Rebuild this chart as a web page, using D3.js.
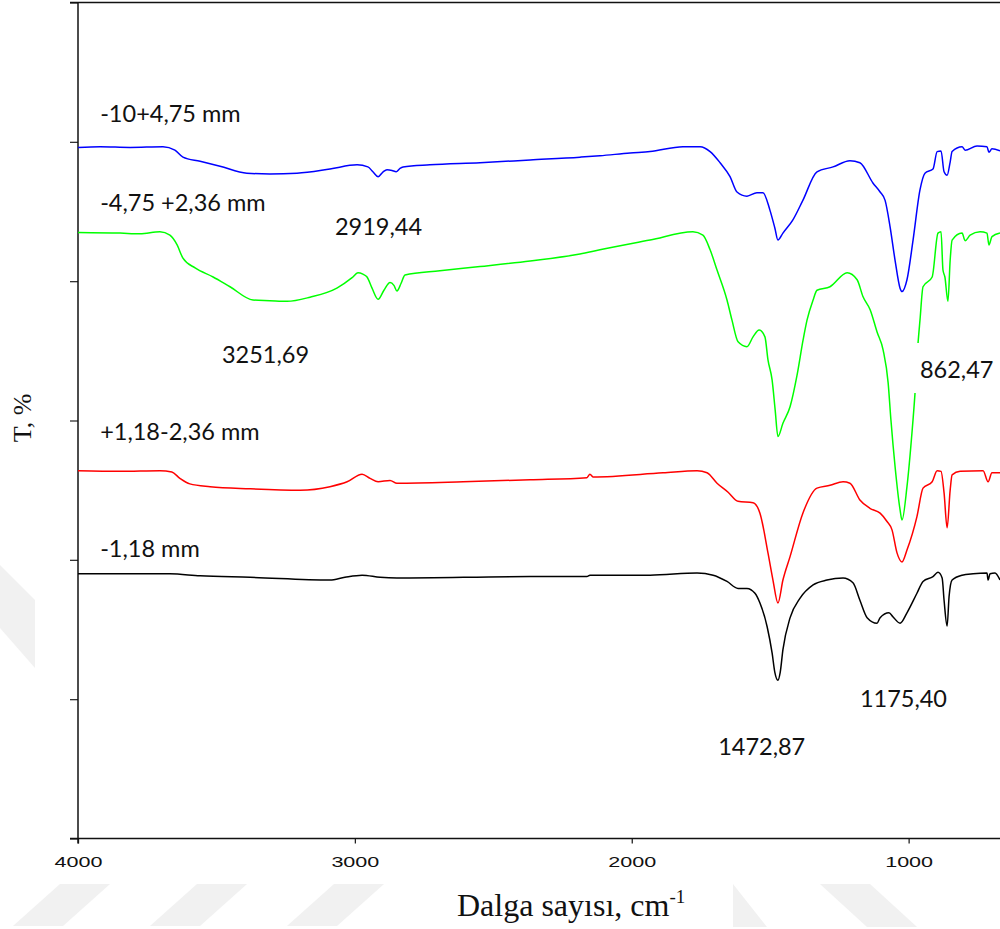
<!DOCTYPE html>
<html>
<head>
<meta charset="utf-8">
<script src="https://cdn.jsdelivr.net/npm/d3@7"></script>
<style>
  body { margin: 0; background: #fff; }
  svg { display: block; }
</style>
</head>
<body>
<script>
// wavenumber (cm-1), transmittance (arbitrary offset %)
const blueData = [
  [4000, 99.2], [3920, 99.3], [3812, 99.2], [3693, 99.3], [3650, 98.8], [3621, 97.8], [3559, 97.2],
  [3487, 96.5], [3390, 95.5], [3307, 95.4], [3209, 95.5], [3090, 96.1], [2992, 96.7], [2953, 96.4],
  [2935, 95.7], [2916, 95.0], [2898, 95.7], [2884, 96.0], [2866, 95.9], [2851, 95.7], [2837, 96.2],
  [2826, 96.4], [2729, 96.7], [2548, 97.0], [2367, 97.4], [2187, 97.8], [2115, 98.0], [2006, 98.4],
  [1934, 98.6], [1815, 99.3], [1753, 99.3], [1717, 98.6], [1681, 97.0], [1645, 95.0], [1620, 92.8],
  [1584, 92.2], [1548, 92.7], [1526, 92.7], [1501, 90.2], [1483, 87.6], [1472, 85.9], [1454, 86.9],
  [1418, 88.8], [1382, 91.6], [1331, 95.7], [1273, 96.4], [1212, 97.3], [1176, 97.0], [1129, 94.1],
  [1103, 92.8], [1085, 91.6], [1067, 87.8], [1049, 83.0], [1031, 79.0], [1024, 78.5], [1006, 80.2],
  [984, 85.9], [959, 93.1], [941, 95.5], [912, 96.1], [897, 98.6], [883, 98.7], [872, 95.7],
  [861, 95.2], [850, 97.1], [843, 98.6], [807, 99.3], [796, 98.8], [753, 99.4], [717, 99.3],
  [710, 98.5], [699, 99.0], [670, 98.7]
];

const greenData = [
  [4000, 87.0], [3848, 86.9], [3776, 86.8], [3704, 87.1], [3668, 86.6], [3642, 85.2], [3621, 83.3],
  [3577, 81.9], [3512, 80.6], [3451, 79.2], [3368, 77.3], [3307, 77.2], [3245, 77.1], [3162, 77.7],
  [3065, 79.0], [3010, 80.5], [2989, 81.2], [2971, 81.0], [2956, 80.6], [2938, 79.0], [2916, 77.4],
  [2895, 78.7], [2873, 79.8], [2859, 79.4], [2848, 78.6], [2833, 79.7], [2819, 80.9], [2693, 81.5],
  [2548, 82.1], [2367, 82.9], [2187, 83.9], [2115, 84.5], [1934, 85.9], [1779, 87.1], [1743, 86.6],
  [1717, 84.5], [1692, 81.6], [1656, 77.3], [1638, 74.4], [1616, 71.3], [1584, 70.6], [1562, 72.0],
  [1540, 73.0], [1519, 72.0], [1508, 68.7], [1493, 65.8], [1482, 61.5], [1472, 57.7], [1454, 59.6],
  [1428, 62.0], [1403, 66.5], [1381, 71.6], [1367, 74.4], [1345, 77.3], [1331, 78.7], [1284, 79.2],
  [1222, 81.2], [1186, 80.2], [1165, 77.8], [1139, 75.9], [1114, 72.7], [1092, 70.1], [1074, 65.4],
  [1064, 60.1], [1049, 53.4], [1031, 47.2], [1024, 45.7], [1006, 50.5], [988, 58.2], [977, 63.9],
  [966, 71.1], [959, 74.4], [948, 79.2], [915, 80.6], [894, 86.9], [883, 87.1], [876, 81.6],
  [869, 80.6], [858, 77.1], [850, 83.0], [843, 85.9], [807, 86.9], [796, 85.8], [778, 86.6],
  [742, 87.1], [717, 86.9], [710, 85.2], [699, 86.4], [670, 86.9]
];

const redData = [
  [4000, 52.8], [3848, 52.7], [3704, 52.8], [3661, 52.6], [3632, 51.7], [3596, 50.9], [3523, 50.5],
  [3379, 50.2], [3198, 50.0], [3090, 50.5], [3028, 51.2], [2974, 52.3], [2945, 51.7], [2916, 51.2],
  [2873, 51.4], [2848, 51.0], [2609, 51.2], [2367, 51.5], [2162, 51.8], [2151, 52.3], [2140, 51.9],
  [1887, 52.5], [1764, 52.8], [1728, 52.5], [1692, 51.0], [1652, 49.7], [1616, 48.4], [1562, 48.2],
  [1537, 46.7], [1508, 41.0], [1490, 37.1], [1472, 33.8], [1454, 37.1], [1428, 40.5], [1382, 46.7],
  [1331, 50.3], [1284, 50.7], [1237, 51.2], [1212, 51.0], [1176, 48.6], [1140, 47.4], [1103, 46.7],
  [1078, 45.5], [1060, 44.3], [1042, 41.0], [1024, 39.7], [1006, 41.4], [970, 46.2], [948, 50.3],
  [915, 51.2], [897, 52.8], [883, 52.7], [872, 49.6], [861, 44.6], [850, 50.0], [843, 52.2],
  [814, 52.7], [731, 52.8], [713, 51.2], [699, 52.5], [670, 52.5]
];

const blackData = [
  [4000, 38.0], [3848, 38.0], [3668, 38.0], [3559, 37.7], [3379, 37.5], [3090, 37.1], [3036, 37.5],
  [2974, 37.8], [2909, 37.5], [2848, 37.4], [2367, 37.6], [2162, 37.6], [2151, 37.8], [1934, 37.8],
  [1764, 38.1], [1706, 37.8], [1656, 36.9], [1616, 35.9], [1584, 35.9], [1555, 35.2], [1537, 33.8],
  [1511, 30.4], [1493, 26.6], [1483, 23.8], [1472, 22.7], [1464, 23.8], [1454, 27.1], [1428, 31.7],
  [1392, 34.5], [1345, 36.4], [1295, 37.1], [1237, 37.4], [1201, 36.7], [1176, 34.2], [1150, 31.7],
  [1114, 30.9], [1103, 31.7], [1071, 32.4], [1056, 31.8], [1031, 30.9], [1006, 32.4], [970, 35.2],
  [948, 36.9], [912, 37.6], [894, 38.2], [879, 37.4], [872, 34.2], [861, 30.5], [854, 34.7],
  [843, 37.1], [807, 37.8], [767, 38.0], [717, 38.1], [713, 37.1], [706, 38.0], [688, 38.1],
  [670, 37.1]
];

const series = [
  { name: "-10+4,75 mm", color: "#0000ff", data: blueData },
  { name: "-4,75 +2,36 mm", color: "#00ff00", data: greenData },
  { name: "+1,18-2,36 mm", color: "#ff0000", data: redData },
  { name: "-1,18 mm", color: "#000000", data: blackData }
];

// sample names placed at [wavenumber, T at baseline]
const sampleLabels = [
  ["-10+4,75 mm", 3920, 102.8],
  ["-4,75 +2,36 mm", 3920, 90.1],
  ["+1,18-2,36 mm", 3920, 57.2],
  ["-1,18 mm", 3920, 40.4]
];

// peak annotations [text, wavenumber at left edge, T at baseline]
const peakLabels = [
  ["2919,44", 3072, 86.6],
  ["3251,69", 3480, 68.2],
  ["862,47", 959, 66.1],
  ["1175,40", 1176, 18.9],
  ["1472,87", 1688, 12.0]
];

const xTicks = [4000, 3000, 2000, 1000];
const yTicks = [0, 20, 40, 60, 80, 100, 120];

const width = 1000;
const height = 929;

const svg = d3.select("body").append("svg")
  .attr("width", width)
  .attr("height", height);

svg.append("rect").attr("width", width).attr("height", height).attr("fill", "#fff");

// faint watermark stripes
const stripes = [
  [[13, 926], [63, 926], [110, 884], [60, 884]],
  [[150, 926], [200, 926], [247, 884], [197, 884]],
  [[287, 926], [337, 926], [384, 884], [334, 884]],
  [[733, 884], [767, 927], [733, 927]],
  [[820, 884], [870, 884], [917, 927], [867, 927]],
  [[0, 565], [35, 600], [35, 668], [0, 628]]
];
svg.append("g").selectAll("polygon")
  .data(stripes)
  .join("polygon")
  .attr("points", (d) => d.map((p) => p.join(",")).join(" "))
  .attr("fill", "#f1f1f1");

const x = d3.scaleLinear().domain([4000, 670]).range([78, 1000]);
const y = d3.scaleLinear().domain([0, 120]).range([838.5, 2.5]);

// axes
const xAxis = d3.axisBottom(x).tickValues(xTicks).tickSize(5).tickSizeOuter(0).tickFormat(d3.format("d"));
const gx = svg.append("g").attr("transform", `translate(0,${y(0)})`).call(xAxis);
gx.select(".domain").remove();
gx.selectAll(".tick line").attr("stroke", "#222").attr("stroke-width", 1.3);
gx.selectAll(".tick text")
  .attr("y", 28).attr("dy", 0)
  .attr("font-family", "Liberation Sans, Arial, sans-serif")
  .attr("font-size", 14)
  .attr("fill", "#111")
  .attr("textLength", 48)
  .attr("lengthAdjust", "spacingAndGlyphs");

const yAxis = d3.axisLeft(y).tickValues(yTicks).tickSize(8).tickFormat("");
const gy = svg.append("g").attr("transform", `translate(${x(4000)},0)`).call(yAxis);
gy.select(".domain").remove();
gy.selectAll(".tick line").attr("stroke", "#333").attr("stroke-width", 1.3);

// frame lines
svg.append("line").attr("x1", 70).attr("x2", width).attr("y1", y(0)).attr("y2", y(0))
  .attr("stroke", "#111").attr("stroke-width", 1.5);
svg.append("line").attr("x1", 70).attr("x2", width).attr("y1", y(120)).attr("y2", y(120))
  .attr("stroke", "#111").attr("stroke-width", 1.5);
svg.append("line").attr("x1", x(4000)).attr("x2", x(4000)).attr("y1", y(120)).attr("y2", y(0) + 5)
  .attr("stroke", "#111").attr("stroke-width", 1.5);

// spectra
const line = d3.line()
  .x((d) => x(d[0]))
  .y((d) => y(d[1]))
  .curve(d3.curveMonotoneX);

svg.append("g").selectAll("path")
  .data(series)
  .join("path")
  .attr("d", (d) => line(d.data))
  .attr("fill", "none")
  .attr("stroke", (d) => d.color)
  .attr("stroke-width", 1.5)
  .attr("stroke-linejoin", "round");

// annotation text
const labelFont = "Lato, 'Open Sans', sans-serif";

svg.append("g").selectAll("text")
  .data(sampleLabels)
  .join("text")
  .attr("x", (d) => x(d[1]))
  .attr("y", (d) => y(d[2]))
  .attr("font-family", labelFont)
  .attr("font-size", 23.5)
  .attr("fill", "#111")
  .text((d) => d[0]);

const peaks = svg.append("g");
peaks.selectAll("rect")
  .data(peakLabels.filter((d) => d[0] === "862,47"))
  .join("rect")
  .attr("x", (d) => x(d[1]) - 7)
  .attr("y", (d) => y(d[2]) - 35)
  .attr("width", 90)
  .attr("height", 50)
  .attr("fill", "#fff");
peaks.selectAll("text")
  .data(peakLabels)
  .join("text")
  .attr("x", (d) => x(d[1]))
  .attr("y", (d) => y(d[2]))
  .attr("font-family", labelFont)
  .attr("font-size", 23.5)
  .attr("fill", "#111")
  .text((d) => d[0]);

// axis titles
svg.append("text")
  .attr("transform", "translate(31,418) rotate(-90)")
  .attr("text-anchor", "middle")
  .attr("font-family", "Liberation Serif, 'Times New Roman', serif")
  .attr("font-size", 26)
  .attr("fill", "#111")
  .text("T, %");

svg.append("rect").attr("x", 440).attr("y", 878).attr("width", 293).attr("height", 51).attr("fill", "#fff");
const xTitle = svg.append("text")
  .attr("x", 457)
  .attr("y", 916)
  .attr("font-family", "Liberation Serif, 'Times New Roman', serif")
  .attr("font-size", 32)
  .attr("fill", "#111");
xTitle.append("tspan").text("Dalga sayısı, cm");
xTitle.append("tspan").attr("dy", -13).attr("font-size", 19).text("-1");
</script>
</body>
</html>
